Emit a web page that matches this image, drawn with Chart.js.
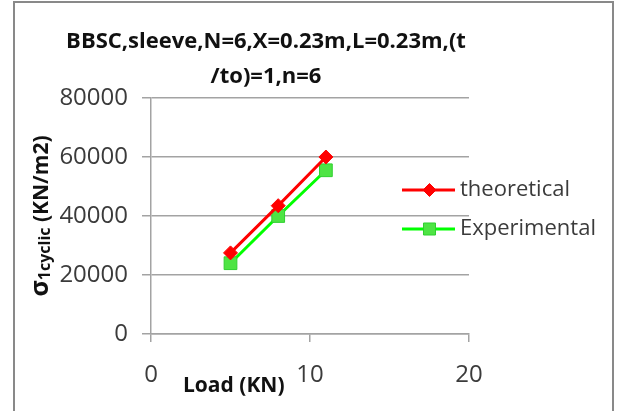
<!DOCTYPE html>
<html>
<head>
<meta charset="utf-8">
<script src="https://cdn.jsdelivr.net/npm/chart.js@4"></script>
<style>
  html, body { margin: 0; padding: 0; background: #fff; }
  #wrap { position: relative; width: 619px; height: 411px; overflow: hidden; }
  #chart { position: absolute; left: 0; top: 0; }
  #frame {
    position: absolute; left: 13px; top: 1px; width: 597px; height: 440px;
    border: 2px solid #898989; pointer-events: none;
  }
</style>
</head>
<body>
<div id="wrap">
  <canvas id="chart" width="619" height="411"></canvas>
  <div id="frame"></div>
</div>
<script>
// load (KN) vs sigma 1cyclic (KN/m2)
const LOADS = [5, 8, 11];
const THEORETICAL = [27500, 43500, 60000];
const EXPERIMENTAL = [24000, 40000, 55500];
const SERIES_NAMES = ["theoretical", "Experimental"];
const TITLE_LINES = ["BBSC,sleeve,N=6,X=0.23m,L=0.23m,(t", "/to)=1,n=6"];
const X_TITLE = "Load (KN)";

const FONT = '"Open Sans", "DejaVu Sans", sans-serif';
const TEXT_COLOR = "#3b3b3b";
const GRID_COLOR = "#a3a3a3";

function toPoints(xs, ys) {
  return xs.map((x, i) => ({ x: x, y: ys[i] }));
}

// titles, rotated y title with subscript, and the legend (drawn over the plot's right side)
const decorations = {
  id: "decorations",
  afterDraw(chart) {
    const ctx = chart.ctx;
    const area = chart.chartArea;
    ctx.save();

    ctx.fillStyle = "#111";
    ctx.textAlign = "center";
    ctx.textBaseline = "alphabetic";
    ctx.font = "bold 22px " + FONT;
    ctx.fillText(TITLE_LINES[0], 266, 48);
    ctx.fillText(TITLE_LINES[1], 266, 83);

    // x axis title sits left of centre, over the tick row
    ctx.font = "bold 21px " + FONT;
    ctx.textAlign = "left";
    ctx.fillText(X_TITLE, 183, 392);

    // y axis title: sigma with "1cyclic" subscript
    const parts = [
      { t: "σ", f: "bold 25px " + FONT, dy: 0 },
      { t: "1cyclic", f: "bold 16px " + FONT, dy: 2 },
      { t: " (KN/m2)", f: "bold 21px " + FONT, dy: 0 },
    ];
    let total = 0;
    parts.forEach((p) => { ctx.font = p.f; p.w = ctx.measureText(p.t).width; total += p.w; });
    ctx.translate(48, (area.top + area.bottom) / 2);
    ctx.rotate(-Math.PI / 2);
    let x = -total / 2;
    parts.forEach((p) => {
      ctx.font = p.f;
      ctx.fillText(p.t, x, p.dy);
      x += p.w;
    });
    ctx.restore();

    // legend
    ctx.save();
    const lx0 = area.right - 67, lx1 = area.right - 14;
    const rows = [area.top + 92, area.top + 131];
    chart.data.datasets.forEach((ds, i) => {
      const y = rows[i];
      ctx.strokeStyle = ds.borderColor;
      ctx.lineWidth = ds.borderWidth;
      ctx.beginPath();
      ctx.moveTo(lx0, y);
      ctx.lineTo(lx1, y);
      ctx.stroke();
      ctx.fillStyle = ds.pointBackgroundColor;
      ctx.strokeStyle = ds.pointBorderColor;
      ctx.lineWidth = 1;
      Chart.helpers.drawPoint(ctx, {
        pointStyle: ds.pointStyle,
        radius: ds.pointRadius - 0.5,
        borderWidth: 1,
      }, (lx0 + lx1) / 2 + 1, y);
      ctx.fillStyle = TEXT_COLOR;
      ctx.font = "22px " + FONT;
      ctx.textAlign = "left";
      ctx.textBaseline = "middle";
      ctx.fillText(ds.label, lx1 + 5, y);
    });
    ctx.restore();
  },
};

const ctx = document.getElementById("chart").getContext("2d");
new Chart(ctx, {
  type: "line",
  data: {
    datasets: [
      {
        label: SERIES_NAMES[0],
        data: toPoints(LOADS, THEORETICAL),
        borderColor: "#ff0000",
        backgroundColor: "#ff0000",
        borderWidth: 3,
        pointStyle: "rectRot",
        pointRadius: 7,
        pointBackgroundColor: "#ff0000",
        pointBorderColor: "#ff0000",
        pointBorderWidth: 1,
      },
      {
        label: SERIES_NAMES[1],
        data: toPoints(LOADS, EXPERIMENTAL),
        borderColor: "#00ff00",
        backgroundColor: "#4ee444",
        borderWidth: 3,
        pointStyle: "rect",
        pointRadius: 9,
        pointBackgroundColor: "#4ee444",
        pointBorderColor: "#2fd02f",
        pointBorderWidth: 1,
      },
    ],
  },
  options: {
    responsive: false,
    animation: false,
    layout: { padding: { left: 0, top: 98, right: 150, bottom: 0 } },
    plugins: { legend: { display: false }, tooltip: { enabled: false } },
    scales: {
      x: {
        type: "linear",
        min: 0,
        max: 20,
        afterFit(scale) { scale.height = 77; },
        ticks: {
          stepSize: 10, color: TEXT_COLOR, font: { family: FONT, size: 24 }, padding: 19,
          callback: (v) => String(v),
        },
        grid: { drawOnChartArea: false, drawTicks: true, tickLength: 8, color: GRID_COLOR, lineWidth: 1.5 },
        border: { display: true, color: GRID_COLOR, width: 1.5 },
      },
      y: {
        min: 0,
        max: 80000,
        afterFit(scale) { scale.width = 151; },
        ticks: {
          stepSize: 20000, color: TEXT_COLOR, font: { family: FONT, size: 24 }, padding: 14,
          callback: (v) => String(v),
        },
        grid: { drawOnChartArea: true, drawTicks: true, tickLength: 9, color: GRID_COLOR, lineWidth: 1.5 },
        border: { display: true, color: GRID_COLOR, width: 1.5 },
      },
    },
  },
  plugins: [decorations],
});
</script>
</body>
</html>
